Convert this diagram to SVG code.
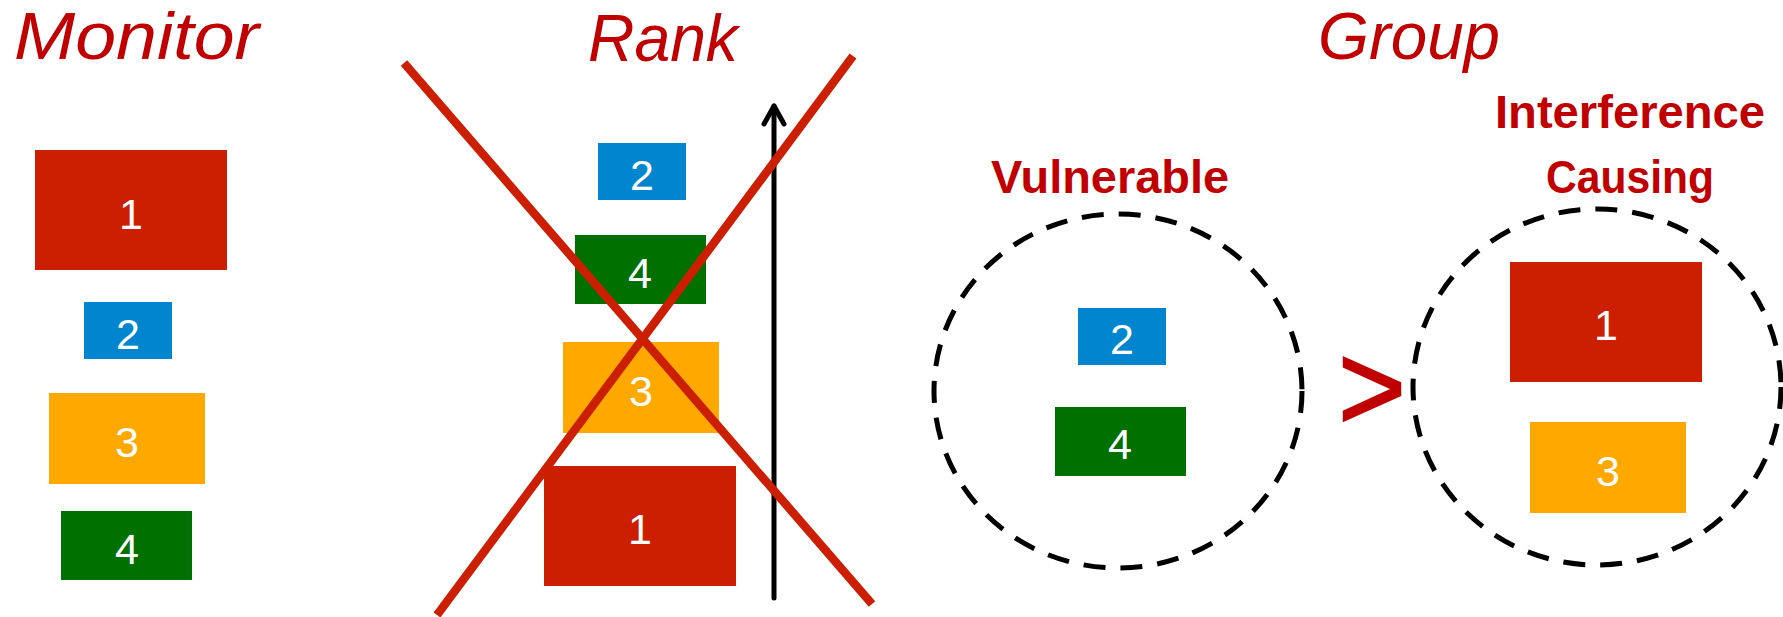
<svg xmlns="http://www.w3.org/2000/svg" width="1783" height="617" viewBox="0 0 1783 617">
<defs>
<style>
.title{font-family:"Liberation Sans",Arial,sans-serif;font-style:italic;font-size:67px;fill:#C00000}
.label{font-family:"Liberation Sans",Arial,sans-serif;font-weight:bold;font-size:46px;fill:#C00000;text-anchor:middle}
.num{font-family:"Liberation Sans",Arial,sans-serif;font-size:43px;fill:#FFFFFF;text-anchor:middle}
.red{fill:#CC1E00}.blue{fill:#0085CE}.orange{fill:#FFA800}.green{fill:#007000}
.dash{fill:none;stroke:#000;stroke-width:5;stroke-dasharray:22 15}
.cross{stroke:#CC1E00;stroke-width:8.5;fill:none}
.arrow{stroke:#000;stroke-width:5;fill:none;stroke-linecap:round;stroke-linejoin:round}
</style>
</defs>
<rect width="1783" height="617" fill="#FFFFFF"/>
<g id="titles">
<text class="title" x="14" y="59" textLength="245" lengthAdjust="spacingAndGlyphs">Monitor</text>
<text class="title" x="588" y="61" textLength="150" lengthAdjust="spacingAndGlyphs">Rank</text>
<text class="title" x="1318" y="59" textLength="182" lengthAdjust="spacingAndGlyphs">Group</text>
</g>
<g id="monitor">
<g id="m1"><rect class="red" x="35" y="150" width="192" height="120"/><text class="num" x="131" y="229">1</text></g>
<g id="m2"><rect class="blue" x="84" y="302" width="88" height="57"/><text class="num" x="128" y="349">2</text></g>
<g id="m3"><rect class="orange" x="49" y="393" width="156" height="91"/><text class="num" x="127" y="457">3</text></g>
<g id="m4"><rect class="green" x="61" y="511" width="131" height="69"/><text class="num" x="127" y="564">4</text></g>
</g>
<g id="rank">
<g id="r2"><rect class="blue" x="598" y="143" width="88" height="57"/><text class="num" x="642" y="190">2</text></g>
<g id="r4"><rect class="green" x="575" y="235" width="131" height="69"/><text class="num" x="640" y="288">4</text></g>
<g id="r3"><rect class="orange" x="563" y="342" width="156" height="91"/><text class="num" x="641" y="406">3</text></g>
<g id="r1"><rect class="red" x="544" y="466" width="192" height="120"/><text class="num" x="640" y="544">1</text></g>
</g>
<g id="connectors">
<line class="arrow" x1="774" y1="598" x2="774" y2="106"/>
<polyline class="arrow" points="764,124 774,106 784,124"/>
<line class="cross" x1="404" y1="63" x2="872" y2="604"/>
<line class="cross" x1="853" y1="56" x2="437" y2="615"/>
</g>
<g id="vulnerable">
<text class="label" x="1110" y="193" textLength="238" lengthAdjust="spacingAndGlyphs">Vulnerable</text>
<ellipse class="dash" cx="1118" cy="391" rx="184" ry="177"/>
<g id="v2"><rect class="blue" x="1078" y="308" width="88" height="57"/><text class="num" x="1122" y="354">2</text></g>
<g id="v4"><rect class="green" x="1055" y="407" width="131" height="69"/><text class="num" x="1120" y="459">4</text></g>
</g>
<g id="gt">
<text x="1372" y="430" font-family="Liberation Sans,Arial,sans-serif" font-size="124" fill="#C00000" stroke="#C00000" stroke-width="2" text-anchor="middle" textLength="68" lengthAdjust="spacingAndGlyphs">&gt;</text>
</g>
<g id="interference">
<text class="label" x="1630" y="128" textLength="270" lengthAdjust="spacingAndGlyphs">Interference</text>
<text class="label" x="1630" y="193" textLength="168" lengthAdjust="spacingAndGlyphs">Causing</text>
<ellipse class="dash" cx="1597" cy="387" rx="184" ry="178"/>
<g id="i1"><rect class="red" x="1510" y="262" width="192" height="120"/><text class="num" x="1606" y="340">1</text></g>
<g id="i3"><rect class="orange" x="1530" y="422" width="156" height="91"/><text class="num" x="1608" y="486">3</text></g>
</g>
</svg>
